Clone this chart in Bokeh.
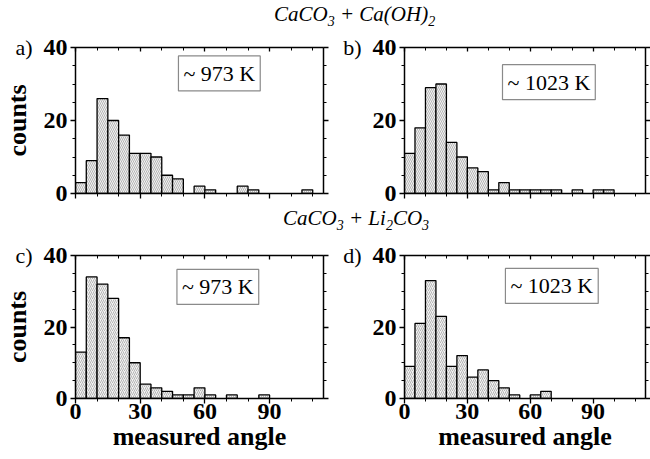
import numpy as np
from bokeh.plotting import figure
from bokeh.models import (Range1d, LinearAxis, SingleIntervalTicker, FixedTicker, Label, Div,
                          CustomJSTickFormatter, ColumnDataSource)
from bokeh.layouts import column, row
from bokeh.embed import file_html
from bokeh.resources import INLINE

# ---------------- data ----------------
bin_width = 5
bin_edges = list(range(0, 115, 5))  # left edges of 5-degree bins

counts_a = [3, 9, 26, 20, 16, 11, 11, 10, 5, 4, 0, 2, 1, 0, 0, 2, 1, 0, 0, 0, 0, 1, 0]
counts_b = [11, 18, 29, 30, 14, 10, 7, 6, 1, 3, 1, 1, 1, 1, 1, 0, 1, 0, 1, 1, 0, 0, 0]
counts_c = [13, 34, 32, 28, 17, 10, 4, 3, 2, 1, 1, 3, 1, 0, 1, 0, 0, 1, 0, 0, 0, 0, 0]
counts_d = [9, 21, 33, 23, 9, 12, 6, 8, 5, 3, 1, 0, 1, 2, 0, 0, 0, 0, 0, 0, 0, 0, 0]

panel_letters = ["a)", "b)", "c)", "d)"]
temp_labels = ["~ 973 K", "~ 1023 K", "~ 973 K", "~ 1023 K"]
x_axis_label = "measured angle"
y_axis_label = "counts"

SERIF = "Liberation Serif"


def style_axis(ax, show_labels, dim):
    ax.axis_line_width = 1.5
    ax.axis_line_color = "black"
    ax.major_tick_line_width = 1.3
    ax.minor_tick_line_width = 1.0
    ax.major_tick_line_color = "black"
    ax.minor_tick_line_color = "black"
    ax.major_tick_in = 0
    ax.minor_tick_in = 0
    ax.major_tick_out = 5
    ax.minor_tick_out = 3
    ax.major_label_text_font = SERIF
    ax.major_label_text_font_style = "bold"
    ax.major_label_text_font_size = "24px"
    ax.major_label_text_color = "black"
    ax.axis_label_text_font = SERIF
    ax.axis_label_text_font_style = "bold"
    ax.axis_label_text_font_size = "26px"
    ax.axis_label_text_color = "black"
    if dim == "x":
        ax.ticker = SingleIntervalTicker(interval=30, num_minor_ticks=3)
    else:
        ax.ticker = SingleIntervalTicker(interval=20, num_minor_ticks=4)
    if not show_labels:
        ax.formatter = CustomJSTickFormatter(code="return ''")
        ax.major_label_text_font_size = "1px"
        ax.major_label_standoff = 0


def make_panel(counts, idx, width, height, mbl, mbr, mbt, mbb, xlabels, ylabel,
               hatch, box_xy):
    p = figure(width=width, height=height, x_range=Range1d(0, 115), y_range=Range1d(0, 40),
               output_backend="svg", toolbar_location=None,
               min_border_left=mbl, min_border_right=mbr, min_border_top=mbt,
               min_border_bottom=mbb, x_axis_type=None, y_axis_type=None)
    p.grid.visible = False
    p.outline_line_color = None
    p.background_fill_color = "white"
    p.border_fill_color = "white"

    bx = LinearAxis(); style_axis(bx, xlabels, "x")
    if xlabels:
        bx.axis_label = x_axis_label
        bx.major_label_standoff = 0
        bx.axis_label_standoff = 0
    p.add_layout(bx, "below")

    # main left axis (ticks + bold numbers)
    lx = LinearAxis(); style_axis(lx, True, "y")
    lx.major_label_standoff = 3
    p.add_layout(lx, "left")

    # outer left axis carrying the panel letter (and the "counts" title)
    ox = LinearAxis(ticker=FixedTicker(ticks=[40], minor_ticks=[]),
                    major_label_overrides={40: panel_letters[idx]})
    ox.axis_line_color = None
    ox.major_tick_line_color = None
    ox.minor_tick_line_color = None
    ox.major_tick_out = 0
    ox.major_tick_in = 0
    ox.minor_tick_out = 0
    ox.major_label_standoff = 8
    ox.major_label_text_font = SERIF
    ox.major_label_text_font_style = "normal"
    ox.major_label_text_font_size = "22px"
    ox.major_label_text_color = "black"
    if ylabel:
        ox.axis_label = y_axis_label
        ox.axis_label_text_font = SERIF
        ox.axis_label_text_font_style = "bold"
        ox.axis_label_text_font_size = "26px"
        ox.axis_label_text_color = "black"
        ox.axis_label_standoff = -20
    p.add_layout(ox, "left")

    tx = LinearAxis(); style_axis(tx, False, "x"); tx.major_tick_out = 0; tx.minor_tick_out = 0
    tx.major_tick_in = 4; tx.minor_tick_in = 3
    p.add_layout(tx, "above")
    rx = LinearAxis(); style_axis(rx, False, "y")
    p.add_layout(rx, "right")

    xs = [e + bin_width / 2 for e, c in zip(bin_edges, counts) if c > 0]
    ys = [c for c in counts if c > 0]
    src = ColumnDataSource(dict(x=xs, top=ys))
    p.vbar(x="x", top="top", bottom=0, width=bin_width, source=src,
           fill_color="#f2f2f2", line_color="black", line_width=1.3,
           hatch_pattern=hatch, hatch_color="#8c8c8c", hatch_scale=4, hatch_weight=0.6)

    p.add_layout(Label(x=box_xy[0], y=box_xy[1], text=temp_labels[idx],
                       text_align="center", text_baseline="middle",
                       text_font=SERIF, text_font_size="22px", text_color="black",
                       border_line_color="#8a8a8a", border_line_width=1.2,
                       background_fill_color="white", padding=5))
    return p


pa = make_panel(counts_a, 0, 340, 175, 73, 17, 17, 12, False, True,
                "left_diagonal_line", (66.7, 32.9))
pb = make_panel(counts_b, 1, 310, 175, 63, 5, 17, 12, False, False,
                "left_diagonal_line", (68.9, 30.5))
pc = make_panel(counts_c, 2, 340, 224, 73, 17, 20, 61, True, True,
                "right_diagonal_line", (66, 31.2))
pd = make_panel(counts_d, 3, 310, 224, 63, 5, 20, 61, True, False,
                "right_diagonal_line", (70.3, 31.5))

sub = '<span style="position:relative; top:5px; font-size:14px;">{}</span>'
wrap = ('<div style="font-family:\'Liberation Serif\'; font-style:italic; font-size:21px; '
        'line-height:22px; color:black; white-space:nowrap; padding-left:{}px; '
        'padding-top:{}px;">{}</div>')
t1 = Div(text=wrap.format(274, 3, "CaCO" + sub.format("3") + " + Ca(OH)" + sub.format("2")),
         width=650, height=30, margin=0)
t2 = Div(text=wrap.format(283, 2, "CaCO" + sub.format("3") + " + Li" + sub.format("2")
                          + "CO" + sub.format("3")),
         width=650, height=30, margin=0)

layout = column(t1, row(pa, pb, spacing=0), t2, row(pc, pd, spacing=0), spacing=0, margin=0)

with open("out.html", "w") as f:
    f.write(file_html(layout, INLINE))
